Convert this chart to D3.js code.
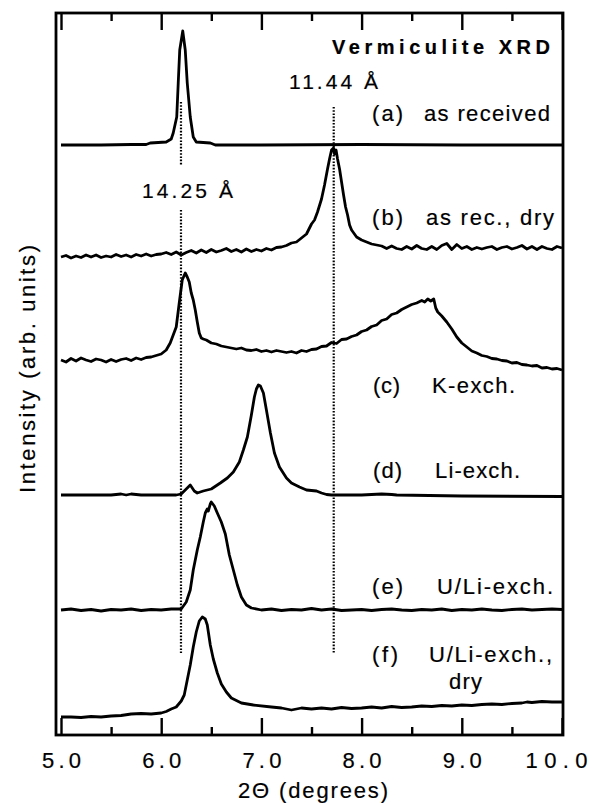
<!DOCTYPE html>
<html>
<head>
<meta charset="utf-8">
<script src="https://cdn.jsdelivr.net/npm/d3@7"></script>
<style>
  body { margin: 0; background: #fff; }
  svg text { font-family: "Liberation Sans", Arial, Helvetica, sans-serif; fill: #000; stroke: #000; stroke-width: 0.2px; }
</style>
</head>
<body>
<div class="chart"></div>
<script>
var width = 593;
var height = 803;

// 2-theta ticks
var majorTicks = [5, 6, 7, 8, 9, 10];
var minorTicks = [5.5, 6.5, 7.5, 8.5, 9.5];

// curve names and vertical offsets (arb. units)
var names = ['(a)', '(b)', '(c)', '(d)', '(e)', '(f)'];
var descr = ['as received', 'as rec., dry', 'K-exch.', 'Li-exch.', 'U/Li-exch.', 'U/Li-exch.,'];
var offsets = [590, 478, 375, 240, 125, 18];

// d-spacings marked by dotted lines (Angstrom), Cu K-alpha
var dSpacings = [14.25, 11.44];
var lambda = 1.5406;

// each scan: [2theta, intensity above its offset]
var scanA = [[5.0,0],[5.4,0],[5.7,0.5],[5.85,0.5],[5.89,2],[6.05,3],[6.10,6],[6.12,12],[6.155,28],[6.17,62],
  [6.185,95],[6.215,114],[6.24,95],[6.26,62],[6.29,28],[6.32,8],[6.35,3],[6.49,2],[6.54,0],[7.0,0],[8.0,0.5],[9.0,0],[10.0,0]];

var scanB = [[5.0,0],[5.05,1.5],[5.1,-1],[5.15,1],[5.2,-0.5],[5.25,2],[5.3,0],[5.35,2],[5.4,-0.5],[5.45,1],[5.5,0],
  [5.55,2.5],[5.6,0.5],[5.65,2],[5.7,0],[5.75,2.5],[5.8,1],[5.85,3],[5.9,1],[5.95,2.5],[6.0,3],[6.05,4.5],[6.1,2.5],
  [6.15,5],[6.2,2],[6.25,4.5],[6.3,6.5],[6.35,4],[6.4,7],[6.45,4.5],[6.5,7.5],[6.55,5],[6.6,6.5],[6.65,8.5],[6.7,5.5],
  [6.75,7.5],[6.8,5],[6.85,8],[6.9,5.5],[6.95,7.5],[7.0,6],[7.05,8.5],[7.1,7],[7.15,9.5],[7.2,10],[7.25,11.5],[7.3,14],
  [7.35,15],[7.4,19],[7.45,23],[7.5,33],[7.53,37],[7.56,45],[7.6,58],[7.63,72],[7.66,88],[7.68,98],[7.70,107],
  [7.72,109],[7.73,103],[7.745,107],[7.76,98],[7.78,88],[7.8,75],[7.82,62],[7.84,50],[7.86,42],[7.88,32],[7.9,27],
  [7.95,20],[8.0,17],[8.05,15],[8.1,13],[8.15,12],[8.2,11],[8.25,8.5],[8.3,11],[8.35,8.5],[8.4,7.5],[8.45,10.5],[8.5,8],
  [8.55,11.5],[8.6,8.5],[8.65,7.5],[8.7,10.5],[8.75,7.5],[8.8,11.5],[8.85,13.5],[8.9,7.5],[8.95,12.5],[9.0,8.5],[9.05,10.5],[9.1,7.5],
  [9.15,9.5],[9.2,8],[9.25,9.5],[9.3,10.5],[9.35,7.5],[9.4,9.5],[9.45,10.5],[9.5,8],[9.55,9.5],[9.6,11.5],[9.65,8],[9.7,10.5],
  [9.75,7.5],[9.8,10.5],[9.85,8.5],[9.9,7.5],[9.95,10.5],[10.0,9]];

var scanC = [[5.0,0],[5.05,-2],[5.1,1.5],[5.15,-1],[5.2,2],[5.25,0],[5.3,-1.5],[5.35,1],[5.4,0],[5.45,-2],
  [5.5,0.5],[5.55,-1.5],[5.6,0.5],[5.65,1.5],[5.7,-0.5],[5.75,2],[5.8,0.5],[5.85,2.5],[5.9,3],[5.95,4.5],[6.0,6],
  [6.05,10],[6.09,17],[6.12,25],[6.15,33],[6.18,57],[6.21,80],[6.24,87],[6.26,83],[6.28,78],[6.30,67],[6.32,60],
  [6.34,50],[6.36,38],[6.38,27],[6.40,22],[6.42,21],[6.45,20],[6.5,17],[6.55,16],[6.6,14],[6.65,13],[6.7,12],
  [6.75,11],[6.8,12],[6.85,10],[6.9,9.5],[6.95,10.5],[7.0,8.5],[7.05,9.5],[7.1,8],[7.15,9.5],[7.2,8.5],[7.25,7.5],
  [7.3,8.5],[7.35,7],[7.4,9.5],[7.45,8.5],[7.5,10.5],[7.55,11],[7.6,13.5],[7.65,14],[7.7,17.5],[7.75,16.5],[7.8,20.5],
  [7.85,21],[7.9,23.5],[7.95,25],[8.0,28.5],[8.05,30],[8.1,33.5],[8.15,35],[8.2,39.5],[8.25,41],[8.3,45.5],[8.35,47],
  [8.4,50.5],[8.45,53],[8.5,55.5],[8.55,57],[8.6,59.5],[8.63,58],[8.66,61],[8.69,59],[8.72,61],[8.74,52],[8.76,48],
  [8.8,44],[8.85,38],[8.9,31],[8.95,23],[9.0,17],[9.05,13],[9.1,9],[9.15,7],[9.2,4.5],[9.25,3.5],[9.3,1.5],
  [9.35,1],[9.4,-0.5],[9.45,-1],[9.5,-3],[9.55,-2.5],[9.6,-4.5],[9.65,-5],[9.7,-6],[9.75,-5.5],[9.8,-8],
  [9.85,-7.5],[9.9,-9],[9.95,-8.5],[10.0,-10]];

var scanD = [[5.0,0],[5.5,0],[5.6,1],[5.65,0],[5.7,1],[5.75,0.5],[5.8,0],[6.15,0],[6.2,1],[6.25,6],[6.29,10],
  [6.33,4],[6.36,2],[6.42,4],[6.5,6],[6.59,12],[6.66,17],[6.72,23],[6.78,33],[6.82,45],[6.86,58],[6.9,80],
  [6.93,98],[6.95,106],[6.97,110],[6.99,109],[7.02,102],[7.05,85],[7.09,62],[7.13,42],[7.18,28],[7.25,17],
  [7.3,12],[7.38,8],[7.45,5],[7.55,4],[7.6,2],[7.65,0.5],[7.7,0],[8.0,0],[8.2,1],[8.3,0.5],[8.35,0],
  [9.0,-1],[10.0,-1.5]];

var scanE = [[5.0,0],[5.1,1],[5.2,-0.5],[5.3,0.5],[5.4,-1],[5.5,0.5],[5.6,0],[5.7,1],[5.8,-0.5],[5.9,0.5],
  [6.0,0],[6.1,1],[6.2,1],[6.25,8],[6.29,20],[6.32,40],[6.36,60],[6.39,73],[6.42,88],[6.44,97],[6.46,101],
  [6.47,99],[6.49,106],[6.5,108],[6.53,104],[6.56,97],[6.6,88],[6.64,76],[6.68,55],[6.72,40],[6.76,25],
  [6.8,13],[6.85,5],[6.9,2],[7.0,0],[7.1,1],[7.2,-0.5],[7.3,0.5],[7.4,0],[7.5,1.5],[7.6,0],[7.7,1],[7.8,-0.5],
  [7.9,0],[8.0,0.5],[8.1,-0.5],[8.2,0.5],[8.3,1],[8.4,0],[8.5,-0.5],[8.6,0.5],[8.7,0],[8.8,1],[8.9,-0.5],
  [9.0,0.5],[9.1,0],[9.2,1],[9.3,0],[9.4,-0.5],[9.5,0.5],[9.6,1],[9.7,0],[9.8,0.5],[9.9,1],[10.0,0.5]];

var scanF = [[5.0,0],[5.1,0],[5.2,-0.5],[5.3,0.5],[5.4,0],[5.5,1],[5.6,1.5],[5.7,3],[5.8,3.5],[5.9,3],[6.0,4],
  [6.05,5.5],[6.1,8],[6.15,10],[6.2,16],[6.23,22],[6.26,37],[6.29,52],[6.32,70],[6.35,85],[6.38,96],[6.41,100],
  [6.44,98],[6.46,92],[6.49,72],[6.52,58],[6.56,44],[6.6,33],[6.65,25],[6.7,19],[6.8,14],[6.92,12],[7.1,10],
  [7.2,9],[7.3,7],[7.4,9],[7.5,8],[7.6,9],[7.7,8],[7.8,9.5],[7.9,8.5],[8.0,9],[8.1,10],[8.2,9],[8.3,10.5],
  [8.4,9.5],[8.5,10],[8.6,11],[8.7,10.5],[8.8,11.5],[8.9,11],[9.0,12],[9.1,11.5],[9.2,12.5],[9.3,13],[9.4,12.5],
  [9.5,13.5],[9.6,14],[9.65,15],[9.7,14.5],[9.8,15.5],[9.9,15],[10.0,15]];

var scans = [scanA, scanB, scanC, scanD, scanE, scanF];

// dotted marker extents (arb. units): [from, to] per segment
var markerSegments = [[[633, 570], [525, 82]], [[628, 82]]];

var svg = d3.select('.chart')
  .append('svg')
  .attr('width', width)
  .attr('height', height);

var frame = {left: 56, right: 563, top: 13, bottom: 735};

var x = d3.scaleLinear().domain([5, 10]).range([61, 562]);
var y = d3.scaleLinear().domain([0, 722]).range([frame.bottom, frame.top]);

var line = d3.line()
  .x(function(d){ return x(d[0]); })
  .y(function(d){ return d[1]; });

// dotted reference lines
dSpacings.forEach(function(d, i){
  var tt = 2 * Math.asin(lambda / (2 * d)) * 180 / Math.PI;
  markerSegments[i].forEach(function(s){
    svg.append('line')
      .attr('x1', x(tt)).attr('x2', x(tt))
      .attr('y1', y(s[0])).attr('y2', y(s[1]))
      .attr('stroke', '#000')
      .attr('stroke-width', 2.2)
      .attr('stroke-dasharray', '1.6,1.6');
  });
});

// scans
svg.selectAll('.scan')
  .data(scans)
  .enter().append('path')
  .attr('class', 'scan')
  .attr('fill', 'none')
  .attr('stroke', '#000')
  .attr('stroke-width', 2.8)
  .attr('stroke-linejoin', 'round')
  .attr('d', function(d, i){
    return line(d.map(function(p){ return [p[0], y(offsets[i] + p[1])]; }));
  });

// frame
svg.append('rect')
  .attr('x', frame.left).attr('y', frame.top)
  .attr('width', frame.right - frame.left)
  .attr('height', frame.bottom - frame.top)
  .attr('fill', 'none')
  .attr('stroke', '#000')
  .attr('stroke-width', 2.8);

// axes
function styleTicks(g){
  g.select('.domain').remove();
  g.selectAll('.tick line').attr('stroke', '#000').attr('stroke-width', 2.4);
}

svg.append('g')
  .attr('transform', 'translate(0,' + frame.bottom + ')')
  .call(d3.axisBottom(x).tickValues(majorTicks).tickSizeInner(-17).tickSizeOuter(0)
    .tickPadding(17).tickFormat(d3.format('.1f')))
  .call(styleTicks)
  .call(function(g){
    g.selectAll('.tick text')
      .attr('font-size', 22)
      .attr('lengthAdjust', 'spacing')
      .attr('textLength', function(d){ return d === 10 ? 62 : 39; })
      .attr('dx', function(d){ return d === 10 ? -6 : 0; });
  });

svg.append('g')
  .attr('transform', 'translate(0,' + frame.bottom + ')')
  .call(d3.axisBottom(x).tickValues(minorTicks).tickSize(-8).tickFormat(''))
  .call(styleTicks);

svg.append('g')
  .attr('transform', 'translate(0,' + frame.top + ')')
  .call(d3.axisTop(x).tickValues(majorTicks).tickSize(-17).tickFormat(''))
  .call(styleTicks);

svg.append('g')
  .attr('transform', 'translate(0,' + frame.top + ')')
  .call(d3.axisTop(x).tickValues(minorTicks).tickSize(-8).tickFormat(''))
  .call(styleTicks);

// axis titles
svg.append('text')
  .attr('x', 238).attr('y', 798)
  .attr('font-size', 22)
  .attr('lengthAdjust', 'spacing').attr('textLength', 150)
  .text('2\u0398  (degrees)');

svg.append('text')
  .attr('transform', 'translate(35,369) rotate(-90)')
  .attr('text-anchor', 'middle')
  .attr('font-size', 22)
  .attr('lengthAdjust', 'spacing').attr('textLength', 248)
  .text('Intensity  (arb.  units)');

// title and annotations
svg.append('text')
  .attr('x', 332).attr('y', 54)
  .attr('font-size', 20).attr('font-weight', 'bold')
  .attr('lengthAdjust', 'spacing').attr('textLength', 218)
  .text('Vermiculite  XRD');

var dLabels = [
  {text: '11.44  \u00C5', x: 289, y: 89, w: 89},
  {text: '14.25  \u00C5', x: 142, y: 198, w: 91}
];
svg.selectAll('.dlab')
  .data(dLabels)
  .enter().append('text')
  .attr('class', 'dlab')
  .attr('x', function(d){ return d.x; })
  .attr('y', function(d){ return d.y; })
  .attr('font-size', 21)
  .attr('lengthAdjust', 'spacing')
  .attr('textLength', function(d){ return d.w; })
  .text(function(d){ return d.text; });

// curve labels: letter, description
var labelPos = [
  {y: 121, lx: 372, lw: 31, tx: 424, tw: 126},
  {y: 225, lx: 372, lw: 31, tx: 426, tw: 128},
  {y: 393, lx: 373, lw: 27, tx: 432, tw: 83},
  {y: 478, lx: 373, lw: 29, tx: 435, tw: 85},
  {y: 594, lx: 372, lw: 31, tx: 437, tw: 116},
  {y: 662, lx: 372, lw: 26, tx: 429, tw: 123}
];

var labels = svg.selectAll('.lab')
  .data(labelPos)
  .enter().append('g')
  .attr('class', 'lab');

labels.append('text')
  .attr('x', function(d){ return d.lx; })
  .attr('y', function(d){ return d.y; })
  .attr('font-size', 22)
  .attr('lengthAdjust', 'spacing')
  .attr('textLength', function(d){ return d.lw; })
  .text(function(d, i){ return names[i]; });

labels.append('text')
  .attr('x', function(d){ return d.tx; })
  .attr('y', function(d){ return d.y; })
  .attr('font-size', 22)
  .attr('lengthAdjust', 'spacing')
  .attr('textLength', function(d){ return d.tw; })
  .text(function(d, i){ return descr[i]; });

svg.append('text')
  .attr('x', 449).attr('y', 689)
  .attr('font-size', 22)
  .attr('lengthAdjust', 'spacing').attr('textLength', 33)
  .text('dry');
</script>
</body>
</html>
